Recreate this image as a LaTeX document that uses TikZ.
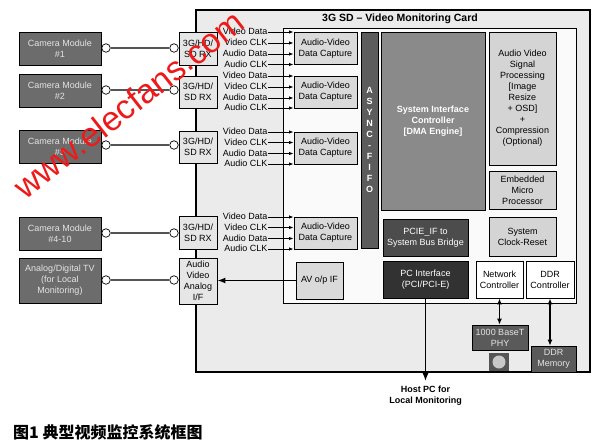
\documentclass[tikz,border=0pt]{standalone}
\usepackage{fontspec}
\setmainfont{Liberation Sans}
\newfontfamily\cjk{Noto Sans CJK SC}
\usepackage{xcolor}
\usepackage{tikz}
\usetikzlibrary{arrows.meta}

\definecolor{cardbg}{HTML}{EBEBEB}
\definecolor{innerbg}{HTML}{FAFAFA}
\definecolor{camgray}{HTML}{6C6C6C}
\definecolor{camtext}{HTML}{E4E4E4}
\definecolor{rxgray}{HTML}{E6E6E6}
\definecolor{capgray}{HTML}{DADADA}
\definecolor{litegray}{HTML}{D4D4D4}
\definecolor{midgray}{HTML}{8A8A8A}
\definecolor{fifogray}{HTML}{5C5C5C}
\definecolor{darkgray}{HTML}{4C4C4C}
\definecolor{deepgray}{HTML}{323232}
\definecolor{chipgray}{HTML}{5A5A5A}
\definecolor{ledlight}{HTML}{C8C8C8}
\definecolor{wiregray}{HTML}{555555}
\definecolor{wmred}{HTML}{EE1A1A}

\begin{document}
\begin{tikzpicture}[x=1pt,y=-1pt,
    every node/.style={inner sep=1pt,align=center,font=\fontsize{9}{11}\selectfont},
    box/.style 2 args={draw=black,line width=0.9pt,minimum width=#1,minimum height=#2},
    cam/.style={box={82pt}{33pt},fill=camgray,text=camtext},
    rx/.style={box={38pt}{#1},fill=rxgray},
    capbox/.style={box={63pt}{32pt},fill=capgray},
    plug/.style={circle,draw=black,fill=white,line width=0.7pt,minimum size=8.5pt,inner sep=0pt},
    wire/.style={draw=wiregray,line width=1.3pt},
    sig/.style={anchor=east,inner sep=0.5pt,text height=6.3pt,text depth=1.2pt},
    sigarrow/.style={line width=0.8pt,-{Latex[length=4.5pt,width=3.5pt]}},
    bigarrow/.style={line width=1.4pt,-{Latex[length=8pt,width=6pt]}},
    duoarrow/.style={line width=1.2pt,{Latex[length=6pt,width=5pt]}-{Latex[length=6pt,width=5pt]}}]
    %
    \fill[white] (0,0) rectangle (600,445);
    \useasboundingbox (0,0) rectangle (600,445);
    %
    \node[draw=black,line width=1.3pt,fill=cardbg,minimum width=394pt,minimum height=362pt,inner sep=0pt] (card) at (393,191) {};
    \node[font=\bfseries\fontsize{10.5}{12}\selectfont] (title) at (400,19) {3G SD \textendash{} Video Monitoring Card};
    \node[draw=black,line width=1pt,fill=innerbg,minimum width=293pt,minimum height=275pt,inner sep=0pt] (inner) at (429.5,165.5) {};
    %
    \node[cam] (cam1) at (60,48.5) {Camera Module\\\#1};
    \node[cam] (cam2) at (60,90.5) {Camera Module\\\#2};
    \node[cam] (cam3) at (60,146.5) {Camera Module\\\#3};
    \node[cam] (cam4) at (60,233.5) {Camera Module\\\#4-10};
    \node[cam,minimum height=45pt] (tv) at (60,280.5) {Analog/Digital TV\\(for Local\\Monitoring)};
    %
    \node[rx=33pt] (rx1) at (198,48.5) {3G/HD/\\SD RX};
    \node[rx=32pt] (rx2) at (198,92) {3G/HD/\\SD RX};
    \node[rx=32pt] (rx3) at (198,147) {3G/HD/\\SD RX};
    \node[rx=33pt] (rx4) at (198,232.5) {3G/HD/\\SD RX};
    \node[rx=46pt] (avif) at (198,281) {Audio\\Video\\Analog\\I/F};
    %
    \node[plug] (pl1) at (106,48) {};
    \node[plug] (pr1) at (174,48) {};
    \node[plug] (pl2) at (106,90) {};
    \node[plug] (pr2) at (174,90) {};
    \node[plug] (pl3) at (106,145) {};
    \node[plug] (pr3) at (174,145) {};
    \node[plug] (pl4) at (106,233) {};
    \node[plug] (pr4) at (174,233) {};
    \node[plug] (pl5) at (106,280) {};
    \node[plug] (pr5) at (174,280) {};
    %
    \draw[wire] (pl1) -- (pr1);
    \draw[wire] (pl2) -- (pr2);
    \draw[wire] (pl3) -- (pr3);
    \draw[wire] (pl4) -- (pr4);
    \draw[wire] (pl5) -- (pr5);
    %
    \node[capbox] (cap1) at (325.5,48.2) {Audio-Video\\Data Capture};
    \node[capbox] (cap2) at (325.5,92) {Audio-Video\\Data Capture};
    \node[capbox] (cap3) at (325.5,148) {Audio-Video\\Data Capture};
    \node[capbox] (cap4) at (325.5,233) {Audio-Video\\Data Capture};
    %
    \node[sig] (s11) at (268,32) {Video Data};
    \node[sig] (s12) at (268,43) {Video CLK};
    \node[sig] (s13) at (268,54) {Audio Data};
    \node[sig] (s14) at (268,64.5) {Audio CLK};
    \node[sig] (s21) at (268,76) {Video Data};
    \node[sig] (s22) at (268,87) {Video CLK};
    \node[sig] (s23) at (268,98) {Audio Data};
    \node[sig] (s24) at (268,108) {Audio CLK};
    \node[sig] (s31) at (268,132) {Video Data};
    \node[sig] (s32) at (268,142.5) {Video CLK};
    \node[sig] (s33) at (268,153.5) {Audio Data};
    \node[sig] (s34) at (268,164) {Audio CLK};
    \node[sig] (s41) at (268,217) {Video Data};
    \node[sig] (s42) at (268,227.5) {Video CLK};
    \node[sig] (s43) at (268,238.5) {Audio Data};
    \node[sig] (s44) at (268,249) {Audio CLK};
    %
    \draw[sigarrow] (s11.east) -- (s11.east -| cap1.west);
    \draw[sigarrow] (s12.east) -- (s12.east -| cap1.west);
    \draw[sigarrow] (s13.east) -- (s13.east -| cap1.west);
    \draw[sigarrow] (s14.east) -- (s14.east -| cap1.west);
    \draw[sigarrow] (s21.east) -- (s21.east -| cap2.west);
    \draw[sigarrow] (s22.east) -- (s22.east -| cap2.west);
    \draw[sigarrow] (s23.east) -- (s23.east -| cap2.west);
    \draw[sigarrow] (s24.east) -- (s24.east -| cap2.west);
    \draw[sigarrow] (s31.east) -- (s31.east -| cap3.west);
    \draw[sigarrow] (s32.east) -- (s32.east -| cap3.west);
    \draw[sigarrow] (s33.east) -- (s33.east -| cap3.west);
    \draw[sigarrow] (s34.east) -- (s34.east -| cap3.west);
    \draw[sigarrow] (s41.east) -- (s41.east -| cap4.west);
    \draw[sigarrow] (s42.east) -- (s42.east -| cap4.west);
    \draw[sigarrow] (s43.east) -- (s43.east -| cap4.west);
    \draw[sigarrow] (s44.east) -- (s44.east -| cap4.west);
    %
    \node[box={17pt}{216pt},fill=fifogray,text=white,inner sep=0pt,font=\bfseries\fontsize{9}{11}\selectfont] (fifo) at (369.5,140) {A\\S\\Y\\N\\C\\-\\F\\I\\F\\O};
    \node[box={104pt}{178pt},fill=midgray,text=white,font=\bfseries\fontsize{9}{11}\selectfont] (sic) at (433,121) {System Interface\\Controller\\{}[DMA Engine]};
    \node[box={67pt}{133pt},fill=litegray] (avsp) at (522.5,98.5) {Audio Video\\Signal\\Processing\\{}[Image\\Resize\\+ OSD]\\+\\Compression\\(Optional)};
    \node[box={67pt}{38pt},fill=litegray] (emp) at (522.5,190) {Embedded\\Micro\\Processor};
    \node[box={85pt}{37pt},fill=darkgray,text=white] (pcie) at (425.5,237.5) {PCIE\_IF to\\System Bus Bridge};
    \node[box={85pt}{37pt},fill=deepgray,text=white] (pci) at (425.5,279.5) {PC Interface\\(PCI/PCI-E)};
    \node[box={67pt}{39pt},fill=litegray] (clk) at (522.5,236.5) {System\\Clock-Reset};
    \node[box={47pt}{37pt},fill=white] (net) at (499.5,279.5) {Network\\Controller};
    \node[box={48pt}{37pt},fill=white] (ddrc) at (550,279.5) {DDR\\Controller};
    \node[box={47pt}{37pt},fill=capgray] (avop) at (319.5,280.5) {AV o/p IF};
    %
    \node[box={56pt}{25pt},fill=chipgray,text=camtext,line width=0.7pt] (phy) at (500,337.5) {1000 BaseT\\PHY};
    \node[fill=wiregray,minimum width=20pt,minimum height=18pt,inner sep=0pt] (led) at (499,362) {};
    \node[circle,fill=ledlight,minimum size=13pt,inner sep=0pt] (lamp) at (led) {};
    \node[box={45pt}{26pt},fill=chipgray,text=camtext,line width=0.7pt] (ddrm) at (553.5,359) {DDR\\Memory};
    %
    \draw[bigarrow] (avop.west) -- (avop.west -| avif.east);
    \draw[duoarrow] (net.south) -- (net.south |- phy.north);
    \draw[duoarrow] (ddrc.south) -- (ddrc.south |- ddrm.north);
    %
    \node[font=\bfseries\fontsize{9}{11}\selectfont] (host) at (425.5,396) {Host PC for\\Local Monitoring};
    \draw[bigarrow,shorten >=4pt] (pci.south) -- (pci.south |- host.north);
    %
    \node[anchor=west,font=\cjk\bfseries\fontsize{16}{18}\selectfont] (caption) at (12,432) {图1 典型视频监控系统框图};
    \node[anchor=base west,rotate=38,text=wmred,inner sep=0pt,font=\fontsize{34}{34}\selectfont] (wm) at (25,201) {www.elecfans.com};
    %
\end{tikzpicture}
\end{document}
